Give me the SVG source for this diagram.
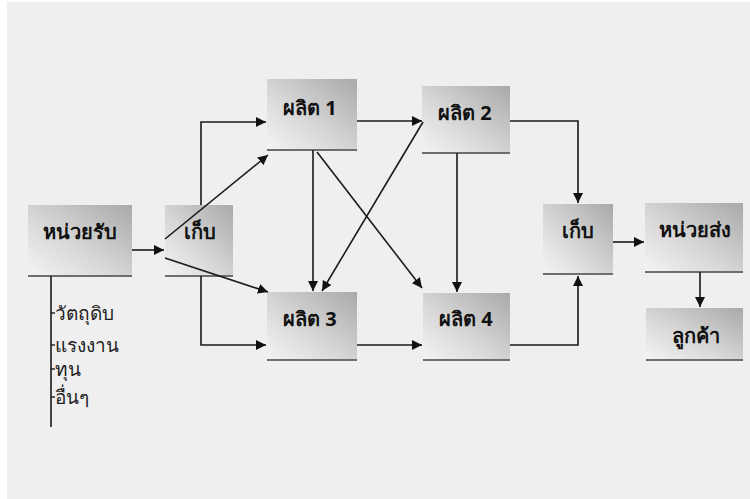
<svg xmlns="http://www.w3.org/2000/svg" width="750" height="499" viewBox="0 0 750 499">
  <defs>
    <linearGradient id="boxFill" x1="1" y1="0" x2="0" y2="1">
      <stop offset="0" stop-color="#a9a9a9"/>
      <stop offset="0.55" stop-color="#d6d6d6"/>
      <stop offset="1" stop-color="#f4f4f4"/>
    </linearGradient>
    <marker id="arrow" viewBox="0 0 10 10" refX="10" refY="5" markerWidth="10" markerHeight="10" markerUnits="userSpaceOnUse" orient="auto">
      <path d="M0,0 L10,5 L0,10 z" fill="#111"/>
    </marker>
  </defs>
  <style>
    .box { fill: url(#boxFill); }
    .shade { stroke: #6e6e6e; stroke-width: 2; }
    .label { font-family: "Noto Sans", "DejaVu Sans", sans-serif; font-weight: bold; font-size: 20px; fill: #111; text-anchor: middle; dominant-baseline: central; }
    .item { font-family: "Noto Sans", "DejaVu Sans", sans-serif; font-size: 19px; fill: #222; }
    .conn { fill: none; stroke: #1a1a1a; stroke-width: 1.6; }
  </style>

  <rect x="0" y="0" width="750" height="499" fill="#ffffff"/>
  <rect x="7" y="2" width="743" height="497" fill="#efefef"/>

  <!-- nodes -->
  <g id="receive">
    <rect class="box" x="28" y="205" width="104" height="71"/>
    <line class="shade" x1="28" y1="276" x2="132" y2="276"/>
    <text class="label" x="80" y="231">หน่วยรับ</text>
  </g>
  <g id="store-in">
    <rect class="box" x="165" y="205" width="68" height="71"/>
    <line class="shade" x1="165" y1="276" x2="233" y2="276"/>
    <text class="label" x="200" y="231">เก็บ</text>
  </g>
  <g id="produce-1">
    <rect class="box" x="267" y="79" width="90" height="71"/>
    <line class="shade" x1="267" y1="150" x2="357" y2="150"/>
    <text class="label" x="310" y="107">ผลิต 1</text>
  </g>
  <g id="produce-2">
    <rect class="box" x="422" y="86" width="88" height="67"/>
    <line class="shade" x1="422" y1="153" x2="510" y2="153"/>
    <text class="label" x="465" y="112">ผลิต 2</text>
  </g>
  <g id="produce-3">
    <rect class="box" x="267" y="292" width="90" height="68"/>
    <line class="shade" x1="267" y1="360" x2="357" y2="360"/>
    <text class="label" x="310" y="318">ผลิต 3</text>
  </g>
  <g id="produce-4">
    <rect class="box" x="423" y="293" width="87" height="67"/>
    <line class="shade" x1="423" y1="360" x2="510" y2="360"/>
    <text class="label" x="466" y="318">ผลิต 4</text>
  </g>
  <g id="store-out">
    <rect class="box" x="543" y="204" width="70" height="70"/>
    <line class="shade" x1="543" y1="274" x2="613" y2="274"/>
    <text class="label" x="578" y="230">เก็บ</text>
  </g>
  <g id="dispatch">
    <rect class="box" x="645" y="203" width="98" height="69"/>
    <line class="shade" x1="645" y1="272" x2="743" y2="272"/>
    <text class="label" x="695" y="229">หน่วยส่ง</text>
  </g>
  <g id="customer">
    <rect class="box" x="646" y="308" width="97" height="52"/>
    <line class="shade" x1="646" y1="360" x2="743" y2="360"/>
    <text class="label" x="696" y="335">ลูกค้า</text>
  </g>

  <!-- inputs list -->
  <g id="inputs">
    <line x1="51" y1="276" x2="51" y2="427" stroke="#1a1a1a" stroke-width="1.6"/>
    <line x1="51" y1="313" x2="55" y2="313" stroke="#1a1a1a" stroke-width="1.4"/>
    <line x1="51" y1="345" x2="55" y2="345" stroke="#1a1a1a" stroke-width="1.4"/>
    <line x1="51" y1="369" x2="55" y2="369" stroke="#1a1a1a" stroke-width="1.4"/>
    <line x1="51" y1="397" x2="55" y2="397" stroke="#1a1a1a" stroke-width="1.4"/>
    <text class="item" x="55" y="320">วัตถุดิบ</text>
    <text class="item" x="55" y="352">แรงงาน</text>
    <text class="item" x="55" y="376">ทุน</text>
    <text class="item" x="55" y="404">อื่นๆ</text>
  </g>

  <!-- connectors -->
  <g id="connectors">
    <path class="conn" marker-end="url(#arrow)" d="M132,250 L164,250"/>
    <path class="conn" marker-end="url(#arrow)" d="M201,205 L201,122 L266,122"/>
    <path class="conn" marker-end="url(#arrow)" d="M165,239 L268,155"/>
    <path class="conn" marker-end="url(#arrow)" d="M165,258 L268,292"/>
    <path class="conn" marker-end="url(#arrow)" d="M201,276 L201,345 L266,345"/>
    <path class="conn" marker-end="url(#arrow)" d="M357,121 L422,121"/>
    <path class="conn" marker-end="url(#arrow)" d="M313,150 L313,291"/>
    <path class="conn" marker-end="url(#arrow)" d="M317,152 L422,288"/>
    <path class="conn" marker-end="url(#arrow)" d="M423,122 L322,291"/>
    <path class="conn" marker-end="url(#arrow)" d="M457,153 L457,292"/>
    <path class="conn" marker-end="url(#arrow)" d="M357,345 L422,345"/>
    <path class="conn" marker-end="url(#arrow)" d="M510,121 L578,121 L578,203"/>
    <path class="conn" marker-end="url(#arrow)" d="M510,345 L578,345 L578,276"/>
    <path class="conn" marker-end="url(#arrow)" d="M613,242 L644,242"/>
    <path class="conn" marker-end="url(#arrow)" d="M700,272 L700,307"/>
  </g>
</svg>
